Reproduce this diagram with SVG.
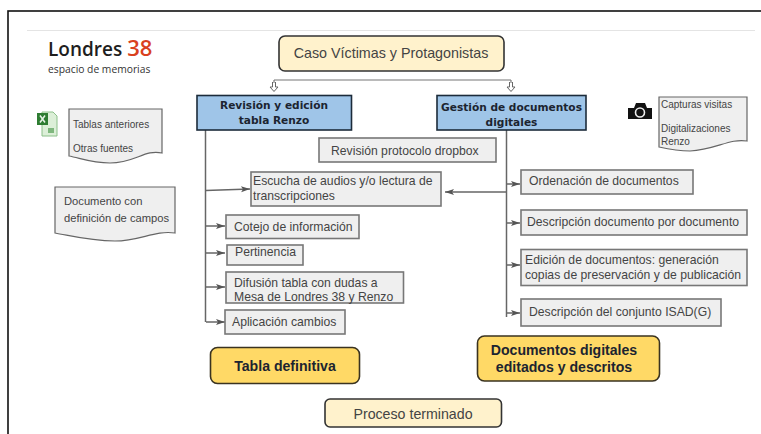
<svg xmlns="http://www.w3.org/2000/svg" width="761" height="434" viewBox="0 0 761 434">
<style>
text{font-family:"Liberation Sans",Arial,sans-serif;fill:#444}
.box{fill:#efefef;stroke:#777;stroke-width:1.6}
.doc{fill:#efefef;stroke:#666;stroke-width:1.2}
.blue{fill:#9fc5e8;stroke:#1c2b3a;stroke-width:1.6}
.gold{fill:#ffd966;stroke:#3a3320;stroke-width:1.6}
.cream{fill:#fff2cc;stroke:#333;stroke-width:1.6}
.t12{font-size:12.2px}
.t10{font-size:10px}
.hd{font-family:"DejaVu Sans",sans-serif;font-size:10.6px;font-weight:700;fill:#1c2430}
.b{font-size:14.1px;font-weight:700;fill:#1c2430}
.line{fill:none;stroke:#666;stroke-width:1.5}
.top{fill:none;stroke:#777;stroke-width:1.2}
</style>
<defs>
<marker id="arr" markerWidth="11" markerHeight="8" refX="10" refY="4" orient="auto" markerUnits="userSpaceOnUse"><path d="M1 1L10 4L1 7L3 4Z" fill="#555"/></marker>
<marker id="hollow" markerWidth="10" markerHeight="10" refX="9" refY="5" orient="auto" markerUnits="userSpaceOnUse"><path d="M0 3.500H5V1L9.500 5L5 9V6.500H0Z" fill="#fff" stroke="#666" stroke-width="1"/></marker>
</defs>
<rect x="8" y="11" width="760" height="430" fill="#fff" stroke="#111" stroke-width="1.6"/>
<line x1="27" y1="30.500" x2="755" y2="30.500" stroke="#e4e4e4" stroke-width="1"/>
<g id="logo">
<text x="48" y="56" style="font-family:'Open Sans','Noto Sans',sans-serif;font-size:19px;font-weight:600;fill:#1e1e1e">Londres <tspan fill="#d9411e" font-size="22">38</tspan></text>
<text x="48" y="73" style="font-family:'Open Sans','Noto Sans',sans-serif;font-size:10.300px;fill:#333">espacio de memorias</text>
</g>
<g id="connectors">
<path class="top" d="M274 80H511"/>
<path class="top" d="M274 80V91" marker-end="url(#hollow)"/>
<path class="top" d="M511 80V91" marker-end="url(#hollow)"/>
<path class="line" d="M205.500 130V322"/>
<path class="line" d="M205.500 190.500L250 189" marker-end="url(#arr)"/>
<path class="line" d="M206 226H225" marker-end="url(#arr)"/>
<path class="line" d="M206 253H225" marker-end="url(#arr)"/>
<path class="line" d="M206 287H225" marker-end="url(#arr)"/>
<path class="line" d="M206 322H225" marker-end="url(#arr)"/>
<path class="line" d="M506.500 130V317"/>
<path class="line" d="M507 184H520" marker-end="url(#arr)"/>
<path class="line" d="M507 192H445" marker-end="url(#arr)"/>
<path class="line" d="M507 223H520" marker-end="url(#arr)"/>
<path class="line" d="M507 265H520" marker-end="url(#arr)"/>
<path class="line" d="M507 313H520" marker-end="url(#arr)"/>
</g>
<g id="caso"><rect class="cream" x="279" y="36" width="225" height="35" rx="6"/><text x="391" y="58" text-anchor="middle" style="font-size:14.300px">Caso Víctimas y Protagonistas</text></g>
<g id="revision"><rect class="blue" x="197" y="95.500" width="154.500" height="34.500"/><text x="274" y="109" text-anchor="middle" class="hd">Revisión y edición</text><text x="274" y="124" text-anchor="middle" class="hd">tabla Renzo</text></g>
<g id="gestion"><rect class="blue" x="437" y="95.500" width="149" height="34.500"/><text x="511.500" y="111" text-anchor="middle" class="hd">Gestión de documentos</text><text x="511.500" y="126" text-anchor="middle" class="hd">digitales</text></g>
<g id="excel-icon">
<path d="M42 112H53L57 116V136H42Z" fill="#dcefd8" stroke="#8cc08a" stroke-width="1"/>
<rect x="37" y="113" width="11" height="12" fill="#2e7d32"/>
<path d="M40 115.500L45 122.500M45 115.500L40 122.500" stroke="#e6f2e6" stroke-width="1.500"/>
<rect x="48" y="128" width="6" height="5" fill="#7fb77e"/>
</g>
<g id="tablas"><path class="doc" d="M69 109H162V153C145 149 135 163 110 163C92 163 80 158 69 156Z"/><text x="73" y="128" class="t10">Tablas anteriores</text><text x="73" y="152" class="t10">Otras fuentes</text></g>
<g id="documento"><path class="doc" d="M55 187H175V233C155 230 140 241 115 241C90 241 72 236 55 233Z"/><text x="64" y="205" style="font-size:11.200px">Documento con</text><text x="64" y="222" style="font-size:11.200px">definición de campos</text></g>
<g id="camera-icon">
<path d="M628 108H634L636 103H645L647 108H652V119H628Z" fill="#111"/>
<circle cx="640" cy="112.500" r="4.500" fill="#111" stroke="#eee" stroke-width="1.600"/>
</g>
<g id="capturas"><path class="doc" d="M659 97H747V141C730 138 715 150 690 151C677 151 668 149 659 147Z"/><text x="661" y="108" class="t10">Capturas visitas</text><text x="661" y="132" class="t10">Digitalizaciones</text><text x="661" y="145" class="t10">Renzo</text></g>
<g id="protocolo"><rect class="box" x="319" y="138" width="177" height="24"/><text x="331" y="155" class="t12">Revisión protocolo dropbox</text></g>
<g id="escucha"><rect class="box" x="251" y="172" width="190" height="34"/><text x="253" y="185" class="t12">Escucha de audios y/o lectura de</text><text x="253" y="200" class="t12">transcripciones</text></g>
<g id="cotejo"><rect class="box" x="226" y="215" width="133" height="23.500"/><text x="234" y="231" class="t12">Cotejo de información</text></g>
<g id="pertinencia"><rect class="box" x="227" y="245" width="76" height="20"/><text x="235" y="256" class="t12">Pertinencia</text></g>
<g id="difusion"><rect class="box" x="226" y="272" width="177.500" height="31"/><text x="234" y="287" class="t12">Difusión tabla con dudas a</text><text x="234" y="301" class="t12">Mesa de Londres 38 y Renzo</text></g>
<g id="aplicacion"><rect class="box" x="225" y="310" width="120" height="24"/><text x="232" y="326" class="t12">Aplicación cambios</text></g>
<g id="ordenacion"><rect class="box" x="521" y="170" width="172" height="24"/><text x="529" y="185" class="t12">Ordenación de documentos</text></g>
<g id="descripcion"><rect class="box" x="521" y="210" width="226" height="25"/><text x="527" y="226" class="t12">Descripción documento por documento</text></g>
<g id="edicion"><rect class="box" x="521" y="249.500" width="226" height="36"/><text x="525" y="264" class="t12">Edición de documentos: generación</text><text x="525" y="279" class="t12">copias de preservación y de publicación</text></g>
<g id="conjunto"><rect class="box" x="521" y="299" width="200" height="27"/><text x="529" y="316" class="t12">Descripción del conjunto ISAD(G)</text></g>
<g id="tabla-def"><rect class="gold" x="210.500" y="347.500" width="149" height="36" rx="7"/><text x="285" y="371" text-anchor="middle" class="b">Tabla definitiva</text></g>
<g id="docs-def"><rect class="gold" x="477.500" y="336" width="182" height="45" rx="7"/><text x="564" y="355" text-anchor="middle" class="b">Documentos digitales</text><text x="564" y="372" text-anchor="middle" class="b">editados y descritos</text></g>
<g id="terminado"><rect class="cream" x="325" y="399" width="176.500" height="28" rx="5"/><text x="413" y="419" text-anchor="middle" style="font-size:14.200px">Proceso terminado</text></g>
</svg>
